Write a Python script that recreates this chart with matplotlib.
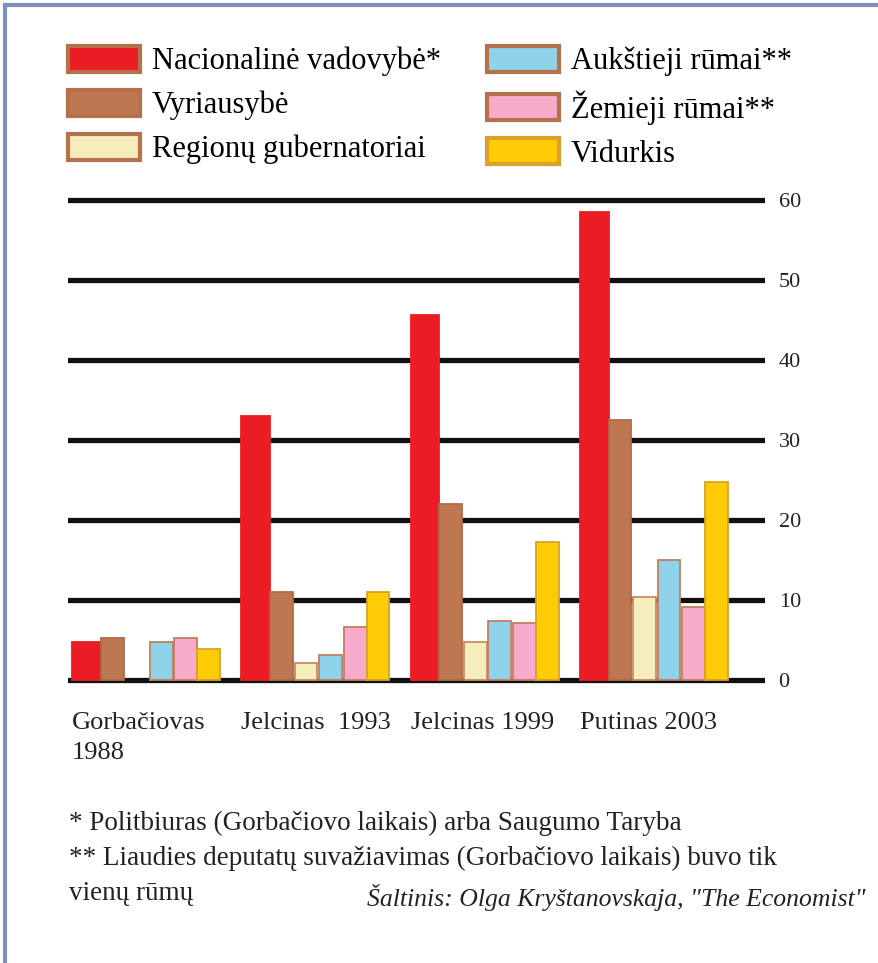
import numpy as np
import matplotlib.pyplot as plt
from matplotlib.patches import Patch
from matplotlib.lines import Line2D

plt.rcParams['font.family'] = ['Liberation Serif', 'DejaVu Serif']

# data
groups = ['Gorbačiovas\n1988', 'Jelcinas  1993', 'Jelcinas 1999', 'Putinas 2003']
series = ['Nacionalinė vadovybė*', 'Vyriausybė', 'Regionų gubernatoriai',
          'Aukštieji rūmai**', 'Žemieji rūmai**', 'Vidurkis']
nac = [4.8, 33.0, 45.6, 58.5]
vyr = [5.2, 11.0, 22.0, 32.5]
reg = [np.nan, 2.1, 4.8, 10.4]
auk = [4.8, 3.1, 7.4, 15.0]
zem = [5.2, 6.6, 7.1, 9.1]
vid = [3.9, 11.0, 17.2, 24.7]
values = [nac, vyr, reg, auk, zem, vid]
yticks = [0, 10, 20, 30, 40, 50, 60]

colors = ['#ec1c24', '#bd7751', '#f6edbc', '#8fd3ea', '#f8aacb', '#ffcb05']
edges = ['#ec1c24', '#b06a48', '#c88a66', '#c08060', '#c08060', '#d9a22a']
legend_edges = ['#b5714c', '#b5714c', '#b5714c', '#b5714c', '#b5714c', '#d9a22a']
widths = [0.17, 0.135, 0.135, 0.135, 0.135, 0.135]
offsets = [-0.365, -0.2125, -0.0675, 0.0775, 0.2225, 0.3575]

fig = plt.figure(figsize=(8.79, 9.63), dpi=100)
ax = fig.add_axes([0.0774, 0.2889, 0.870 - 0.0774, 0.7973 - 0.2889])

x = np.arange(len(groups))
for vals, c, ec, w, off in zip(values, colors, edges, widths, offsets):
    ax.bar(x + off, vals, width=w, color=c, edgecolor=ec, linewidth=1.3, zorder=3)

ax.set_xlim(-0.474, 3.643)
ax.set_ylim(-0.6, 60.6)
ax.set_yticks(yticks)
ax.yaxis.tick_right()
ax.tick_params(axis='y', length=0, pad=10, labelsize=16, labelcolor='#222222')
ax.set_xticks([])
for s in ax.spines.values():
    s.set_visible(False)
for v in yticks:
    ax.axhline(v, color='#111111', linewidth=3.8, zorder=1)

# group labels, left aligned at group start
for xi, g in zip(x, groups):
    ax.text(xi - 0.45, -4.0, g, ha='left', va='top', fontsize=19,
            color='#222222', linespacing=1.5)

handles = [Patch(facecolor=c, edgecolor=e, linewidth=3) for c, e in zip(colors, legend_edges)]
fig.legend(handles, series, ncol=2, loc='upper left', bbox_to_anchor=(0.0774, 0.952),
           frameon=False, fontsize=22, handlelength=2.35, handleheight=0.9,
           handletextpad=0.4, columnspacing=1.5, labelspacing=0.45, borderpad=0,
           borderaxespad=0)

fig.text(0.079, 1 - 823 / 963, '* Politbiuras (Gorbačiovo laikais) arba Saugumo Taryba',
         fontsize=19.5, va='center', color='#222222')
fig.text(0.079, 1 - 858 / 963, '** Liaudies deputatų suvažiavimas (Gorbačiovo laikais) buvo tik',
         fontsize=19.5, va='center', color='#222222')
fig.text(0.079, 1 - 893 / 963, 'vienų rūmų', fontsize=19.5, va='center', color='#222222')
fig.text(0.985, 1 - 897 / 963, 'Šaltinis: Olga Kryštanovskaja, "The Economist"',
         fontsize=18.5, style='italic', ha='right', va='center', color='#222222')

# frame around the picture
fig.add_artist(Line2D([0.006, 1.0], [0.995, 0.995], color='#7f90b8', linewidth=3))
fig.add_artist(Line2D([0.006, 0.006], [0.0, 0.995], color='#7f90b8', linewidth=3))

fig.savefig('out.png', dpi=100)
